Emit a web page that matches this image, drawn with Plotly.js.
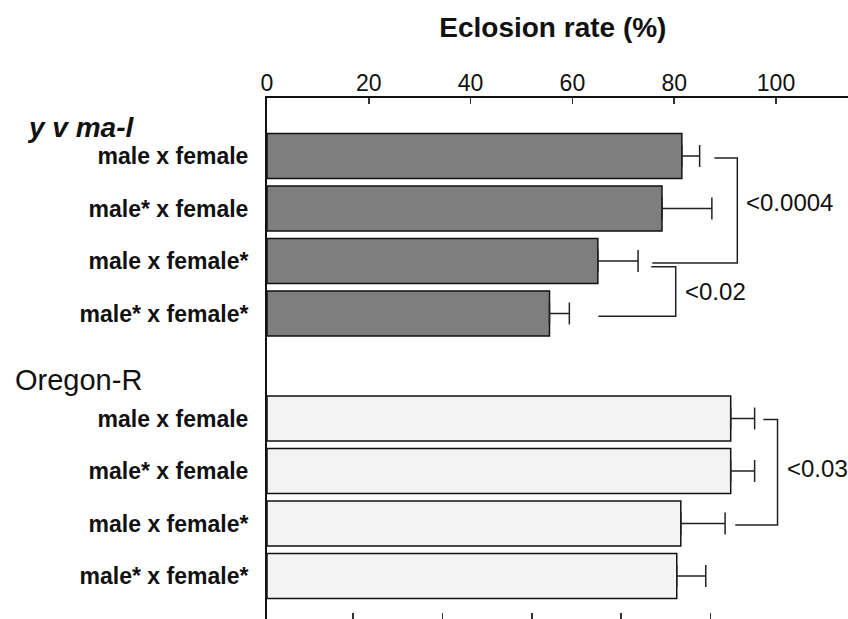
<!DOCTYPE html>
<html>
<head>
<meta charset="utf-8">
<script src="https://cdn.plot.ly/plotly-3.0.1.min.js"></script>
<style>
  html, body { margin: 0; padding: 0; background: #fff; }
  #chart { width: 848px; height: 619px; }
</style>
</head>
<body>
<div id="chart"></div>
<script>
// ---- data ----
const groups = ["y v ma-l", "Oregon-R"];
const crosses = ["male x female", "male* x female", "male x female*", "male* x female*"];
const yvmaRate = [81.5, 77.6, 65.0, 55.5];
const yvmaErr = [3.5, 9.8, 7.9, 3.9];
const oregonRate = [91.1, 91.1, 81.3, 80.5];
const oregonErr = [4.7, 4.7, 8.7, 5.7];
const xTicks = [0, 20, 40, 60, 80, 100];
const lowerPanelTicks = [20, 40, 60, 80, 100];
// comparisons: [group, first cross, second cross]
const comparisons = [[0, 0, 2], [0, 2, 3], [1, 0, 2]];
const pValues = ["<0.0004", "<0.02", "<0.03"];

// ---- layout helpers (styles / offsets) ----
const slotsPerGroup = crosses.length + 1;
const slotOf = (g, i) => g * slotsPerGroup + i + 1;
const rates = [yvmaRate, oregonRate];
const errs = [yvmaErr, oregonErr];
const barColors = ["#7e7e7e", "#f3f3f3"];
const groupLabelDy = [-0.55, -0.73];
const groupLabelShift = [-242, -254];
const groupLabelFont = [
  {family: "Liberation Sans", size: 28, weight: "bold", style: "italic", color: "#111"},
  {family: "Liberation Sans", size: 29, color: "#111"}
];
const bracketGap = [[2.9, 2.8], [2.6, 5.7], [1.7, 2.0]];
const bracketArm = [5.0, 7.4, 4.5];
const bracketDy = [[0.04, 0.04], [0.11, 0.05], [0.02, 0.03]];
const pLabelYShift = [8, 0, 4];

const traces = groups.map((g, gi) => ({
  type: "bar",
  orientation: "h",
  name: g,
  x: rates[gi],
  y: crosses.map((c, i) => slotOf(gi, i)),
  width: 0.86,
  marker: {color: barColors[gi], line: {color: "#111", width: 1.5}},
  error_x: {
    type: "data", symmetric: false,
    array: errs[gi], arrayminus: errs[gi].map(() => 0),
    color: "#222", thickness: 1.5, width: 11
  },
  hoverinfo: "skip"
}));
// empty trace so the lower panel's tick axis (cut off at the bottom) is drawn
traces.push({type: "scatter", x: [], y: [], xaxis: "x2", yaxis: "y", hoverinfo: "skip"});

const tickvals = [], ticktext = [];
groups.forEach((g, gi) => crosses.forEach((c, i) => { tickvals.push(slotOf(gi, i)); ticktext.push(c); }));

const shapes = [], annotations = [];
groups.forEach((g, gi) => {
  annotations.push({
    xref: "paper", yref: "y", x: 0, y: slotOf(gi, 0) + groupLabelDy[gi],
    xanchor: "left", yanchor: "middle", xshift: groupLabelShift[gi],
    text: g, showarrow: false, font: groupLabelFont[gi]
  });
});
comparisons.forEach((cmp, k) => {
  const [g, a, b] = cmp;
  const capA = rates[g][a] + errs[g][a];
  const capB = rates[g][b] + errs[g][b];
  let maxCap = 0;
  for (let i = a; i <= b; i++) maxCap = Math.max(maxCap, rates[g][i] + errs[g][i]);
  const xv = maxCap + bracketArm[k];
  const yA = slotOf(g, a) + bracketDy[k][0];
  const yB = slotOf(g, b) + bracketDy[k][1];
  shapes.push({
    type: "path", xref: "x", yref: "y",
    path: `M${capA + bracketGap[k][0]},${yA} H${xv} V${yB} H${capB + bracketGap[k][1]}`,
    line: {color: "#222", width: 1.5}
  });
  annotations.push({
    xref: "x", yref: "y", x: xv, y: (yA + yB) / 2,
    xanchor: "left", yanchor: "middle", xshift: 7, yshift: pLabelYShift[k],
    text: pValues[k], showarrow: false,
    font: {family: "Liberation Sans", size: 24, color: "#111"}
  });
});

const plotW = 848 - 267;
const layout = {
  width: 848, height: 619,
  margin: {l: 267, r: 0, t: 98, b: 0, pad: 0},
  paper_bgcolor: "#fff", plot_bgcolor: "#fff",
  showlegend: false,
  barmode: "overlay",
  title: {
    text: "Eclosion rate (%)",
    xref: "paper", x: 0.492, xanchor: "center",
    yref: "container", y: 1 - 27 / 619, yanchor: "middle",
    font: {family: "Liberation Sans", size: 28, weight: "bold", color: "#111"}
  },
  xaxis: {
    side: "top", range: [0, plotW / 5.09],
    tickvals: xTicks, ticktext: xTicks.map(String),
    ticks: "inside", ticklen: 6, tickwidth: 1.5, tickcolor: "#333",
    showline: true, linewidth: 2, linecolor: "#111",
    showgrid: false, zeroline: false,
    tickfont: {family: "Liberation Sans", size: 23, color: "#111"},
    ticklabelstandoff: -4
  },
  xaxis2: {
    overlaying: "x", side: "bottom", anchor: "y",
    range: [0.7, 0.7 + plotW / 4.465],
    tickvals: lowerPanelTicks, showticklabels: false,
    ticks: "inside", ticklen: 6, tickwidth: 1.5, tickcolor: "#333",
    showline: false, showgrid: false, zeroline: false
  },
  yaxis: {
    range: [1 + (619 - 156) / 52.5, 1 + (98 - 156) / 52.5],
    tickvals: tickvals, ticktext: ticktext,
    ticks: "", showline: true, linewidth: 2, linecolor: "#111",
    showgrid: false, zeroline: false,
    tickfont: {family: "Liberation Sans", size: 23, weight: "bold", color: "#111"},
    ticklabelstandoff: 12
  },
  shapes: shapes,
  annotations: annotations
};

Plotly.newPlot("chart", traces, layout, {staticPlot: true, displayModeBar: false});
</script>
</body>
</html>
